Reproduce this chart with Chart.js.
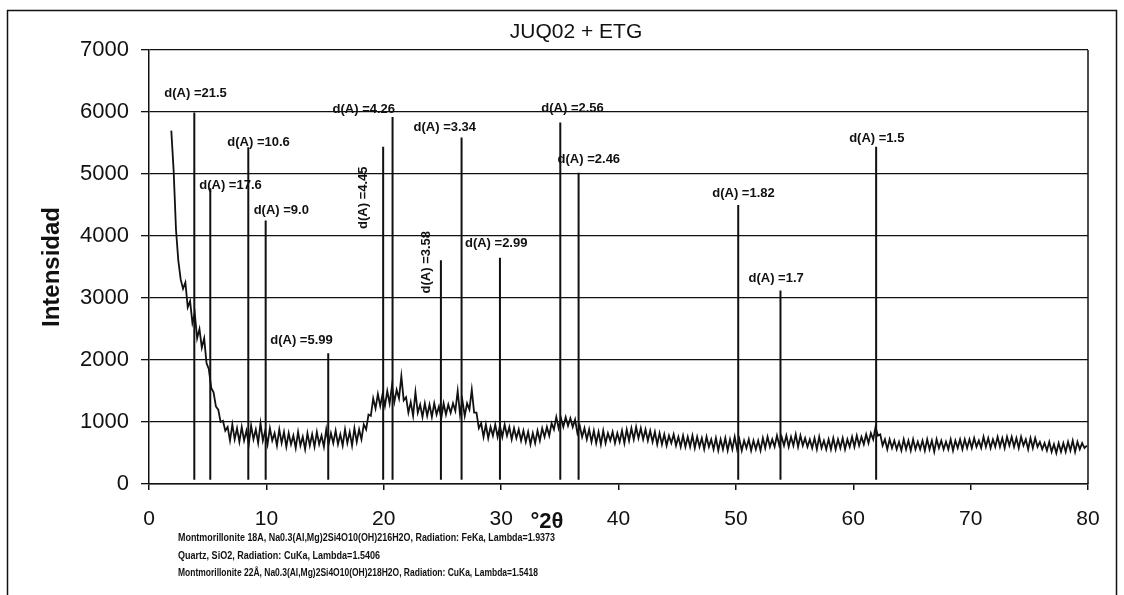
<!DOCTYPE html>
<html>
<head>
<meta charset="utf-8">
<title>JUQ02 + ETG</title>
<script src="https://cdn.jsdelivr.net/npm/chart.js@4.4.1/dist/chart.umd.min.js"></script>
<style>
  html, body { margin: 0; padding: 0; background: #fff; }
  #wrap { width: 1124px; height: 595px; position: relative; }
  canvas { display: block; }
</style>
</head>
<body>
<div id="wrap"><canvas id="xrd" width="1124" height="595"></canvas></div>
<script>
// Diffractogram JUQ02 + ETG: measured intensity on a regular 2θ scan grid
const scanStart = 1.9;   // first 2θ of the scan (degrees)
const scanStep = 0.2;    // 2θ step between readings (degrees)

const intensity = [
  5700, 5050, 4100, 3600, 3300, 3150, 3250, 2850, 2950, 2600,
  2750, 2350, 2500, 2200, 2350, 1950, 1850, 1550, 1480, 1250,
  1200, 1000, 1020, 860, 920, 700, 960, 720, 900, 680,
  920, 700, 860, 640, 940, 720, 880, 660, 980, 700,
  860, 640, 900, 700, 820, 620, 880, 660, 840, 600,
  820, 640, 780, 580, 840, 620, 760, 560, 820, 620,
  800, 600, 840, 640, 780, 600, 880, 640, 820, 660,
  860, 640, 800, 620, 880, 660, 840, 620, 900, 680,
  880, 720, 960, 880, 1120, 1100, 1380, 1220, 1450, 1260,
  1450, 1260, 1500, 1300, 1580, 1320, 1520, 1380, 1740, 1350,
  1400, 1150, 1320, 1100, 1480, 1150, 1280, 1080, 1300, 1100,
  1280, 1080, 1300, 1120, 1250, 1060, 1300, 1120, 1280, 1150,
  1300, 1180, 1500, 1120, 1350, 1100, 1300, 1200, 1520, 1150,
  1150, 900, 980, 760, 960, 740, 920, 780, 960, 760,
  940, 760, 960, 780, 920, 720, 900, 740, 880, 700,
  860, 680, 840, 640, 820, 660, 860, 700, 900, 760,
  920, 780, 980, 880, 1080, 900, 1060, 920, 1080, 940,
  1060, 920, 1040, 820, 940, 760, 900, 720, 880, 680,
  860, 660, 840, 640, 860, 660, 820, 700, 840, 660,
  820, 680, 860, 660, 880, 700, 900, 720, 920, 740,
  900, 720, 880, 700, 860, 680, 840, 640, 820, 640,
  800, 620, 780, 660, 800, 620, 760, 600, 780, 600,
  760, 600, 780, 580, 760, 600, 740, 560, 760, 600,
  720, 560, 740, 540, 720, 560, 740, 540, 720, 560,
  760, 560, 720, 540, 700, 580, 720, 540, 700, 560,
  700, 540, 740, 580, 760, 600, 720, 600, 780, 620,
  760, 620, 780, 600, 760, 620, 800, 600, 780, 620,
  740, 600, 720, 580, 740, 560, 760, 580, 700, 560,
  720, 560, 740, 560, 720, 580, 740, 560, 720, 600,
  760, 600, 780, 620, 760, 640, 800, 660, 820, 720,
  920, 780, 800, 620, 720, 560, 720, 580, 700, 560,
  680, 540, 720, 560, 700, 540, 720, 560, 680, 560,
  700, 540, 720, 560, 700, 520, 720, 580, 700, 560,
  680, 560, 720, 540, 700, 580, 720, 560, 720, 580,
  720, 580, 740, 600, 700, 580, 760, 600, 740, 580,
  720, 600, 760, 600, 740, 580, 760, 620, 760, 600,
  740, 580, 760, 620, 720, 560, 740, 580, 740, 600,
  680, 560, 660, 540, 680, 520, 640, 500, 660, 520,
  660, 520, 680, 540, 700, 520, 680, 560, 660, 580,
  620
];

// Reference reflections (d-spacings in Å) drawn as sticks
const peakLabels   = ['21.5', '17.6', '10.6', '9.0', '5.99', '4.45', '4.26', '3.58', '3.34', '2.99', '2.56', '2.46', '1.82', '1.7', '1.5'];
const peakTwoTheta = [3.86, 5.22, 8.46, 9.94, 15.27, 19.95, 20.75, 24.87, 26.63, 29.9, 35.04, 36.6, 50.2, 53.8, 61.95];
const peakHeight   = [5990, 4770, 5430, 4250, 2110, 5440, 5920, 3610, 5590, 3650, 5830, 5020, 4500, 3120, 5440];
const stickBase = 70;

// Axis tick labels
const xTickValues = [0, 10, 20, 30, 40, 50, 60, 70, 80];
const yTickValues = [0, 1000, 2000, 3000, 4000, 5000, 6000, 7000];

const chartTitle = 'JUQ02 + ETG';
const xTitle = '°2θ';
const yTitle = 'Intensidad';
const footnotes = [
  'Montmorillonite 18A, Na0.3(Al,Mg)2Si4O10(OH)216H2O, Radiation: FeKa, Lambda=1.9373',
  'Quartz, SiO2, Radiation: CuKa, Lambda=1.5406',
  'Montmorillonite 22Å, Na0.3(Al,Mg)2Si4O10(OH)218H2O, Radiation: CuKa, Lambda=1.5418'
];

// Label placement next to each stick top: [dx, dy] in px, rotated or not
const labelLayout = [
  [-30, -19, false], [-11, -3, false], [-21, -5, false], [-12, -10, false],
  [-58, -13, false], [-20, 51, true], [-60, -8, false], [-14, 2, true],
  [-48, -10, false], [-35, -14, false], [-19, -14, false], [-21, -13, false],
  [-26, -12, false], [-32, -12, false], [-27, -8, false]
];

const FONT = "'Liberation Sans', Arial, Helvetica, sans-serif";
const INK = '#111';

// Build datasets from the arrays
const scanPoints = intensity.map((v, i) => ({ x: +(scanStart + i * scanStep).toFixed(2), y: v }));
const stickPoints = [];
peakTwoTheta.forEach((t, i) => {
  stickPoints.push({ x: t, y: stickBase }, { x: t, y: peakHeight[i] }, { x: t, y: null });
});

const decorations = {
  id: 'decorations',
  beforeDraw(chart) {
    const ctx = chart.ctx;
    ctx.save();
    ctx.fillStyle = '#fff';
    ctx.fillRect(0, 0, chart.width, chart.height);
    ctx.restore();
  },
  afterDraw(chart) {
    const ctx = chart.ctx;
    const area = chart.chartArea;
    const xs = chart.scales.x, ys = chart.scales.y;
    ctx.save();

    // outer frame
    ctx.strokeStyle = INK;
    ctx.lineWidth = 1.5;
    ctx.beginPath();
    ctx.moveTo(7.5, 595);
    ctx.lineTo(7.5, 10.5);
    ctx.lineTo(1116.5, 10.5);
    ctx.lineTo(1116.5, 595);
    ctx.stroke();

    // right edge of plot area
    ctx.beginPath();
    ctx.moveTo(area.right, area.top);
    ctx.lineTo(area.right, area.bottom);
    ctx.stroke();

    // chart title
    ctx.fillStyle = INK;
    ctx.textAlign = 'center';
    ctx.textBaseline = 'middle';
    ctx.font = `21px ${FONT}`;
    ctx.fillText(chartTitle, 576, 32);

    // y axis title
    ctx.save();
    ctx.translate(52, (area.top + area.bottom) / 2);
    ctx.rotate(-Math.PI / 2);
    ctx.font = `bold 24px ${FONT}`;
    ctx.fillText(yTitle, 0, 0);
    ctx.restore();

    // x axis title
    ctx.font = `bold 22px ${FONT}`;
    ctx.fillText(xTitle, 547, 522);

    // peak labels
    ctx.font = `bold 13px ${FONT}`;
    peakLabels.forEach((d, i) => {
      const px = xs.getPixelForValue(peakTwoTheta[i]);
      const py = ys.getPixelForValue(peakHeight[i]);
      const [dx, dy, rotated] = labelLayout[i];
      const text = 'd(A) =' + d;
      if (rotated) {
        ctx.save();
        ctx.translate(px + dx, py + dy);
        ctx.rotate(-Math.PI / 2);
        ctx.textAlign = 'center';
        ctx.textBaseline = 'middle';
        ctx.fillText(text, 0, 0);
        ctx.restore();
      } else {
        ctx.textAlign = 'left';
        ctx.textBaseline = 'middle';
        ctx.fillText(text, px + dx, py + dy);
      }
    });

    // footnotes under the x axis
    ctx.textAlign = 'left';
    ctx.textBaseline = 'middle';
    ctx.font = `bold 11px ${FONT}`;
    ctx.fillText(footnotes[0], 178, 538, 377);
    ctx.font = `bold 10px ${FONT}`;
    ctx.fillText(footnotes[1], 178, 556, 202);
    ctx.fillText(footnotes[2], 178, 573, 360);

    ctx.restore();
  }
};

new Chart(document.getElementById('xrd'), {
  type: 'line',
  data: {
    datasets: [
      {
        label: 'JUQ02 + ETG',
        data: scanPoints,
        borderColor: INK,
        borderWidth: 1.8,
        pointRadius: 0,
        tension: 0
      },
      {
        label: 'd(A)',
        data: stickPoints,
        borderColor: INK,
        borderWidth: 2,
        pointRadius: 0,
        spanGaps: false,
        tension: 0
      }
    ]
  },
  options: {
    responsive: false,
    animation: false,
    devicePixelRatio: 1,
    layout: { padding: { left: 0, right: 36, top: 50, bottom: 0 } },
    plugins: {
      legend: { display: false },
      tooltip: { enabled: false },
      title: { display: false }
    },
    scales: {
      x: {
        type: 'linear',
        min: 0,
        max: 80,
        afterFit(scale) { scale.height = 111; },
        afterBuildTicks(scale) { scale.ticks = xTickValues.map(v => ({ value: v })); },
        ticks: {
          color: INK,
          font: { family: FONT, size: 21 },
          padding: 17,
          maxRotation: 0
        },
        grid: {
          drawOnChartArea: false,
          drawTicks: true,
          tickLength: 6,
          color: INK,
          lineWidth: 1.5
        },
        border: { display: true, color: INK, width: 1.5 }
      },
      y: {
        type: 'linear',
        min: 0,
        max: 7000,
        afterFit(scale) { scale.width = 149; },
        afterBuildTicks(scale) { scale.ticks = yTickValues.map(v => ({ value: v })); },
        ticks: {
          color: INK,
          font: { family: FONT, size: 22 },
          padding: 12,
          callback: v => String(v)
        },
        grid: {
          color: INK,
          lineWidth: 1.3,
          tickLength: 8,
          drawTicks: true
        },
        border: { display: true, color: INK, width: 1.5 }
      }
    }
  },
  plugins: [decorations]
});
</script>
</body>
</html>
